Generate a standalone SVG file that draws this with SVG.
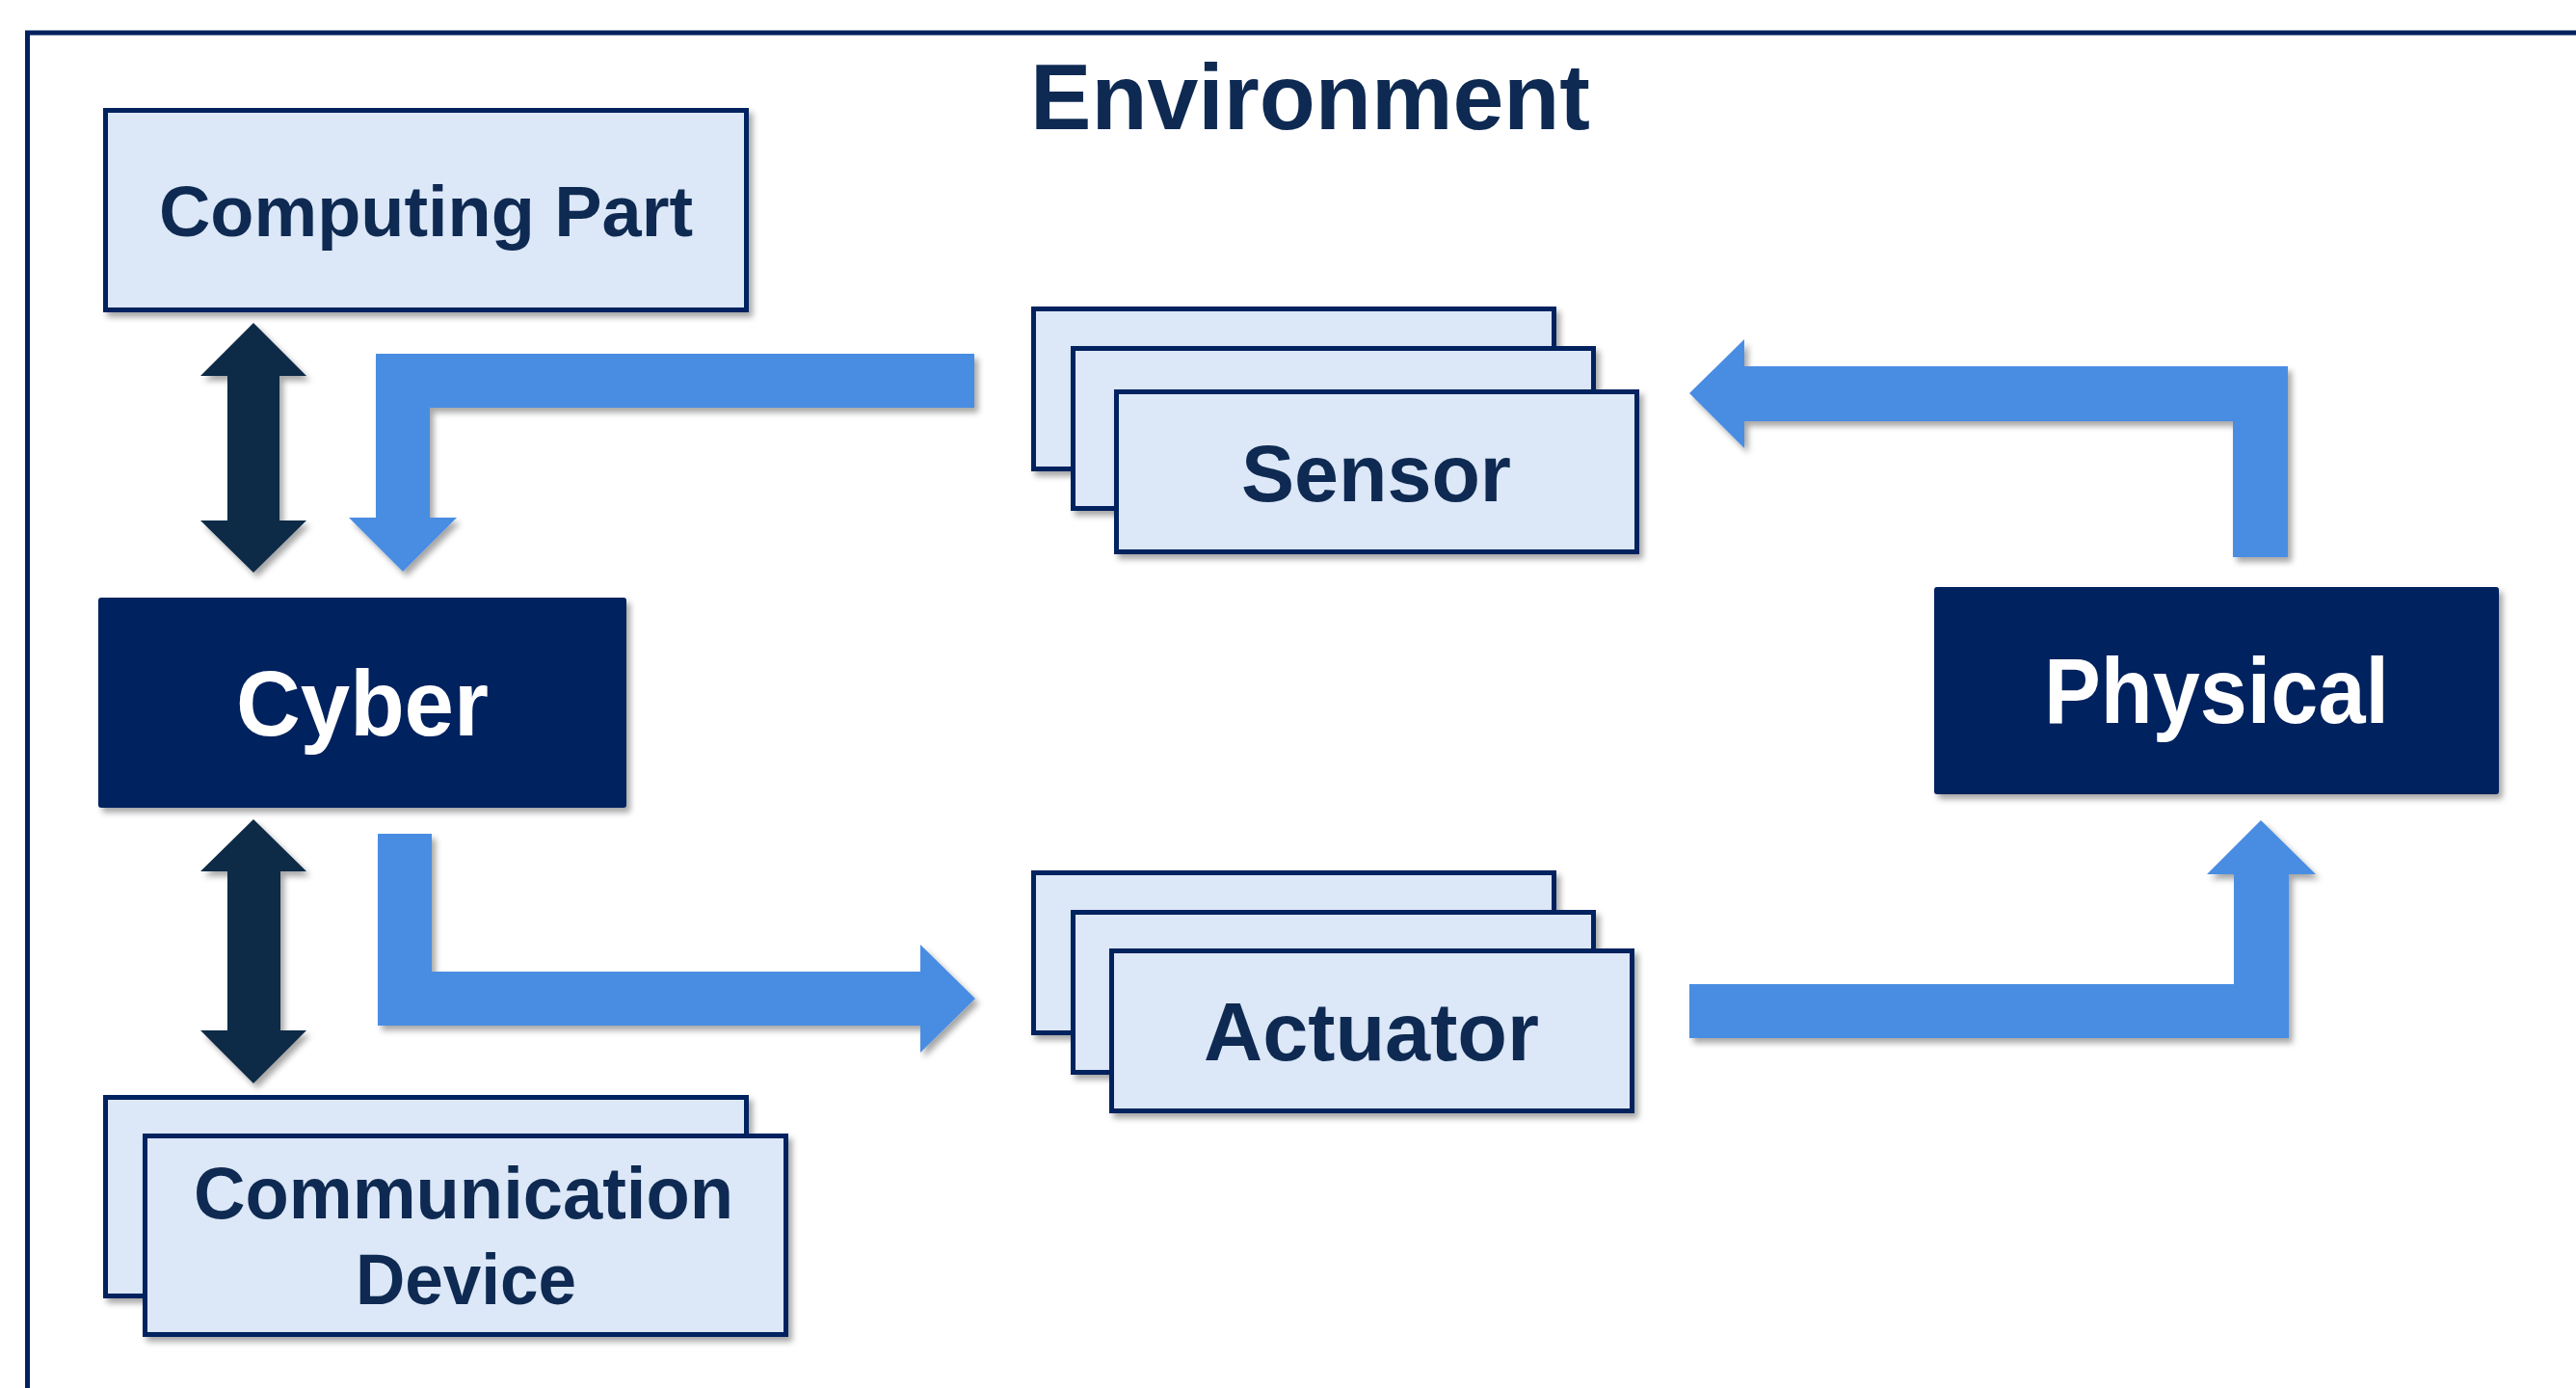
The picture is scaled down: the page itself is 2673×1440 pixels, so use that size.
<svg xmlns="http://www.w3.org/2000/svg" width="2673" height="1440" viewBox="0 0 2673 1440">
  <defs>
    <filter id="sh" x="-10%" y="-10%" width="130%" height="130%">
      <feDropShadow dx="4" dy="5" stdDeviation="3" flood-color="#000" flood-opacity="0.35"/>
    </filter>
    <style>
      .lbox { fill: #dce7f7; stroke: #03215f; stroke-width: 5; filter: url(#sh); }
      .dbox { fill: #03215f; filter: url(#sh); }
      .blue { fill: #4a8de3; filter: url(#sh); }
      .dark { fill: #0f2b46; filter: url(#sh); }
      .t { font-family: "Liberation Sans", Arial, sans-serif; font-weight: bold; fill: #0e2a52; }
      .w { font-family: "Liberation Sans", Arial, sans-serif; font-weight: bold; fill: #ffffff; }
    </style>
  </defs>
  <rect width="2673" height="1440" fill="#ffffff"/>

  <g id="environment">
    <path d="M28.5,1440 V34 H2673" fill="none" stroke="#03215f" stroke-width="5"/>
    <text class="t" x="1069" y="134" font-size="96" textLength="581" lengthAdjust="spacingAndGlyphs">Environment</text>
  </g>

  <g id="connectors">
    <path class="dark" d="M263,335 L318,390 H290 V540 H318 L263,594 L208,540 H236 V390 H208 Z"/>
    <path class="dark" d="M263,850 L318,904 H291 V1069 H318 L263,1124 L208,1069 H236 V904 H208 Z"/>
    <path class="blue" d="M1011,367 V423 H446 V537 H474 L418,593 L362,537 H390 V367 Z"/>
    <path class="blue" d="M392,865 H448 V1008 H955 V980 L1012,1036 L955,1092 V1064 H392 Z"/>
    <path class="blue" d="M2374,380 V578 H2317 V437 H1810 V465 L1753,408 L1810,352 V380 Z"/>
    <path class="blue" d="M1753,1021 H2318 V907 H2290 L2346,851 L2403,907 H2375 V1077 H1753 Z"/>
  </g>

  <g id="computing-part">
    <rect class="lbox" x="109.5" y="114.5" width="665" height="207"/>
    <text class="t" x="165" y="245" font-size="75" textLength="554" lengthAdjust="spacingAndGlyphs">Computing Part</text>
  </g>

  <g id="cyber">
    <rect class="dbox" x="102" y="620" width="548" height="218" rx="3"/>
    <text class="w" x="245" y="763" font-size="96" textLength="262" lengthAdjust="spacingAndGlyphs">Cyber</text>
  </g>

  <g id="communication-device">
    <rect class="lbox" x="109.5" y="1138.5" width="665" height="206"/>
    <rect class="lbox" x="150.5" y="1178.5" width="665" height="206"/>
    <text class="t" x="201" y="1264" font-size="76" textLength="560" lengthAdjust="spacingAndGlyphs">Communication</text>
    <text class="t" x="369" y="1353" font-size="74" textLength="229" lengthAdjust="spacingAndGlyphs">Device</text>
  </g>

  <g id="sensor">
    <rect class="lbox" x="1072.5" y="320.5" width="540" height="166"/>
    <rect class="lbox" x="1113.5" y="361.5" width="540" height="166"/>
    <rect class="lbox" x="1158.5" y="406.5" width="540" height="166"/>
    <text class="t" x="1288" y="520" font-size="84" textLength="280" lengthAdjust="spacingAndGlyphs">Sensor</text>
  </g>

  <g id="actuator">
    <rect class="lbox" x="1072.5" y="905.5" width="540" height="166"/>
    <rect class="lbox" x="1113.5" y="946.5" width="540" height="166"/>
    <rect class="lbox" x="1153.5" y="986.5" width="540" height="166"/>
    <text class="t" x="1249" y="1100" font-size="85" textLength="348" lengthAdjust="spacingAndGlyphs">Actuator</text>
  </g>

  <g id="physical">
    <rect class="dbox" x="2007" y="609" width="586" height="215" rx="3"/>
    <text class="w" x="2121" y="750" font-size="97" textLength="358" lengthAdjust="spacingAndGlyphs">Physical</text>
  </g>
</svg>
